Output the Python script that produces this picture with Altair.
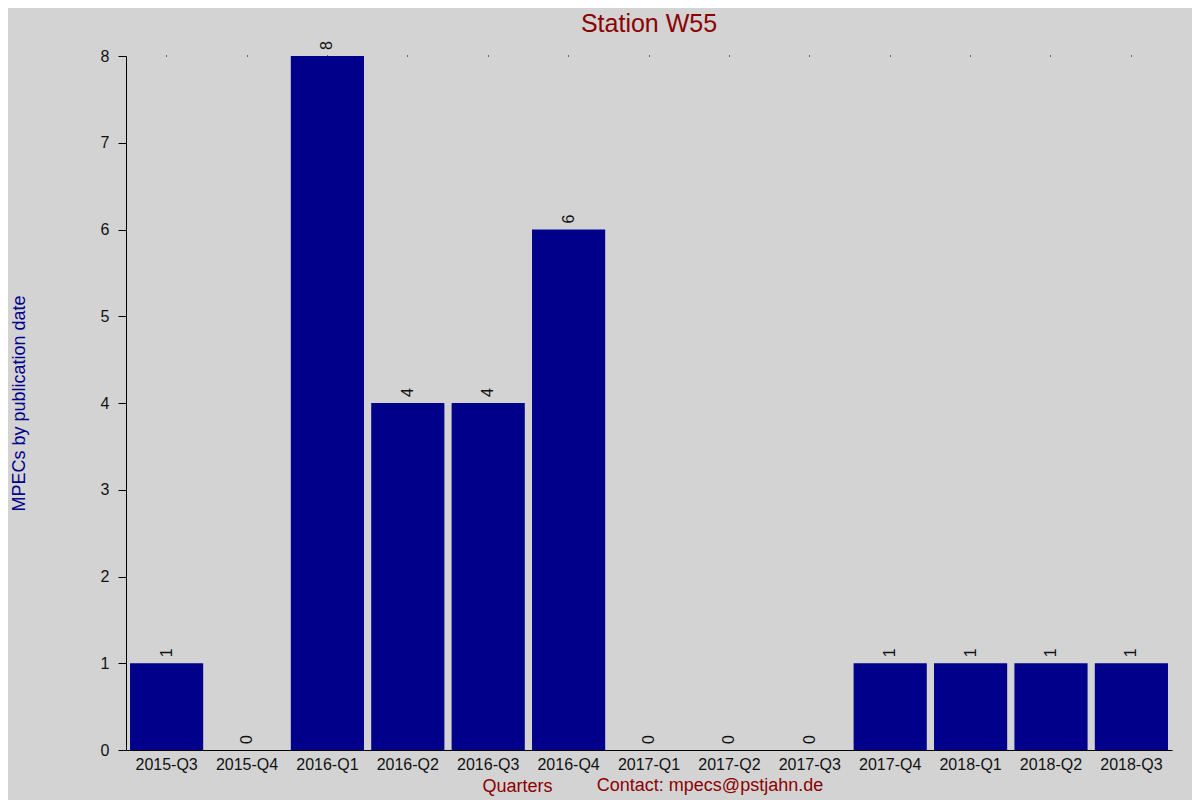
import altair as alt
import pandas as pd

quarters = ["2015-Q3", "2015-Q4", "2016-Q1", "2016-Q2", "2016-Q3", "2016-Q4",
            "2017-Q1", "2017-Q2", "2017-Q3", "2017-Q4", "2018-Q1", "2018-Q2", "2018-Q3"]
counts = [1, 0, 8, 4, 4, 6, 0, 0, 0, 1, 1, 1, 1]

df = pd.DataFrame({"quarter": quarters, "count": counts})

FONT = "Liberation Sans"
DARKRED = "#8b0000"
NAVY = "#00008b"

xscale = alt.Scale(domain=quarters, paddingInner=0.09, paddingOuter=0.05)
yscale = alt.Scale(domain=[0, 8], nice=False)

bars = alt.Chart(df).mark_bar(color=NAVY).encode(
    x=alt.X("quarter:N", sort=quarters, scale=xscale,
            axis=alt.Axis(title="Quarters", labelAngle=0, ticks=False, domainColor="black",
                          labelFont=FONT, labelFontSize=16, labelColor="#111111", labelPadding=6,
                          titleFont=FONT, titleFontSize=18, titleColor=DARKRED,
                          titleFontWeight="normal", titleX=391, titleY=36,
                          titleBaseline="middle", titleAlign="center", grid=False)),
    y=alt.Y("count:Q", scale=yscale,
            axis=alt.Axis(title="MPECs by publication date", values=list(range(0, 9)),
                          format="d",
                          domainColor="black", tickColor="black", tickSize=8,
                          labelFont=FONT, labelFontSize=16, labelColor="#111111", labelPadding=9,
                          titleFont=FONT, titleFontSize=18, titleColor=NAVY,
                          titleFontWeight="normal", titleX=-107, titleY=347,
                          titleAngle=270, titleBaseline="middle", titleAlign="center",
                          grid=False)),
)

labels = alt.Chart(df).mark_text(
    angle=270, align="left", baseline="middle", dx=6,
    font=FONT, fontSize=16, color="#111111"
).encode(
    x=alt.X("quarter:N", sort=quarters, scale=xscale,
            axis=alt.Axis(orient="top", labels=False, domain=False, ticks=True,
                          tickSize=1, tickColor="black", title=None, grid=False)),
    y=alt.Y("count:Q", scale=yscale),
    text=alt.Text("count:Q"),
)

contact = alt.Chart(pd.DataFrame({"t": ["Contact: mpecs@pstjahn.de"]})).mark_text(
    align="center", baseline="middle", font=FONT, fontSize=18, color=DARKRED
).encode(
    x=alt.value(584), y=alt.value(730), text="t:N"
)

chart = alt.layer(bars, labels, contact).resolve_axis(x="independent").properties(
    width=1046, height=694,
    background="#d3d3d3",
    padding={"left": 118, "top": 48, "right": 20, "bottom": 52},
    autosize=alt.AutoSizeParams(type="none"),
    title=alt.TitleParams("Station W55", font=FONT, fontSize=25, color=DARKRED,
                          fontWeight="normal", anchor="middle", offset=4, frame="group"),
).configure_view(stroke=None)

chart.save("out.html", embed_options={"renderer": "svg", "actions": False})
